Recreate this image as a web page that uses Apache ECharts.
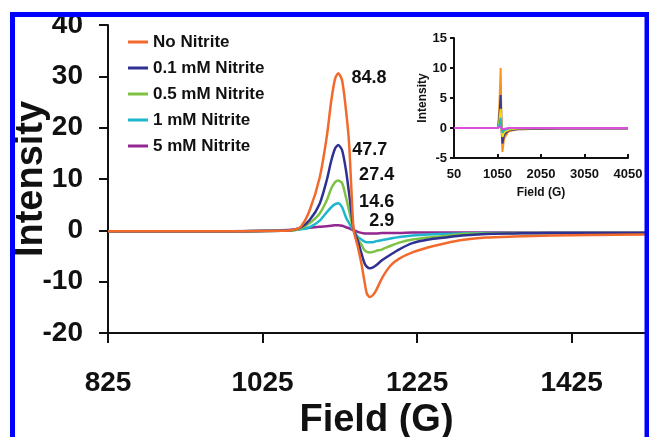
<!DOCTYPE html>
<html>
<head>
<meta charset="utf-8">
<script src="https://cdn.jsdelivr.net/npm/echarts@6/dist/echarts.min.js"></script>
<style>
html,body{margin:0;padding:0;background:#fff;}
#c{width:649px;height:437px;}
</style>
</head>
<body>
<div id="c"></div>
<script>
// ---- data ----
var seriesNames = ['No Nitrite', '0.1 mM Nitrite', '0.5 mM Nitrite', '1 mM Nitrite', '5 mM Nitrite'];
var peakLabels = ['84.8', '47.7', '27.4', '14.6', '2.9'];
var xTicksMain = [825, 1025, 1225, 1425];
var xTicksInset = [50, 1050, 2050, 3050, 4050];

var field = [825, 950, 1050, 1065, 1075, 1086, 1099, 1108, 1114, 1119, 1123, 1128, 1133, 1137, 1140, 1143, 1148, 1153, 1157, 1160, 1164, 1168, 1172, 1180, 1191, 1202, 1219, 1240, 1262, 1283, 1314, 1350, 1400, 1450, 1520];
var noNitrite = [-0.2, -0.2, -0.1, 0.1, 0.8, 3.9, 10.3, 18.1, 25.3, 29.6, 30.6, 29.2, 23.4, 17.0, 8.0, 0.0, -3.0, -6.5, -10.0, -12.3, -13.0, -12.6, -11.7, -9.2, -6.8, -5.5, -4.3, -3.3, -2.5, -1.9, -1.4, -1.2, -1.0, -0.9, -0.8];
var nitrite01 = [-0.2, -0.2, -0.1, 0.1, 0.6, 2.0, 5.2, 9.7, 13.6, 16.0, 16.6, 15.6, 11.7, 7.2, 3.5, 0.0, -1.9, -4.5, -6.4, -7.1, -7.4, -7.2, -6.8, -5.8, -4.7, -3.7, -2.5, -1.8, -1.4, -1.0, -0.7, -0.6, -0.5, -0.5, -0.5];
var nitrite05 = [-0.2, -0.2, -0.1, 0.0, 0.4, 1.4, 3.3, 5.8, 8.2, 9.4, 9.7, 9.2, 6.4, 3.8, 1.8, 0.0, -1.6, -2.8, -3.9, -4.2, -4.3, -4.2, -4.0, -3.7, -3.0, -2.4, -1.8, -1.4, -1.1, -0.7, -0.6, -0.5, -0.5, -0.5, -0.5];
var nitrite1 = [-0.2, -0.2, -0.1, 0.0, 0.2, 0.6, 1.9, 3.5, 4.5, 5.1, 5.3, 4.5, 2.5, 1.4, 0.6, 0.0, -1.2, -1.8, -2.2, -2.3, -2.3, -2.3, -2.1, -1.9, -1.6, -1.3, -1.0, -0.8, -0.7, -0.6, -0.5, -0.5, -0.5, -0.5, -0.5];
var nitrite5 = [-0.2, -0.2, 0.0, 0.1, 0.3, 0.5, 0.7, 0.8, 0.9, 1.0, 1.0, 0.9, 0.6, 0.4, 0.2, 0.0, -0.3, -0.5, -0.6, -0.6, -0.6, -0.6, -0.6, -0.5, -0.5, -0.5, -0.4, -0.4, -0.4, -0.4, -0.4, -0.4, -0.4, -0.4, -0.4];

var fieldInset = [50, 1000, 1060, 1090, 1123, 1143, 1164, 1200, 1300, 1500, 2500, 4050];
var insetNo = [0, 0, 0, 3.0, 10.0, 0, -4.0, -1.8, -0.6, -0.2, -0.1, -0.1];
var inset01 = [0, 0, 0, 1.6, 5.5, 0, -2.6, -1.2, -0.4, -0.2, -0.1, -0.1];
var inset05 = [0, 0, 0, 0.9, 3.2, 0, -1.5, -0.7, -0.3, -0.1, 0, 0];
var inset1 = [0, 0, 0, 0.5, 1.7, 0, -0.8, -0.4, -0.1, 0, 0, 0];
var inset5 = [0, 0, 0, 0.1, 0.3, 0, -0.2, -0.1, 0, 0, 0, 0];

// ---- styling ----
var mainColors = ['#f26a2b', '#2e3192', '#7dc242', '#1eb5cf', '#92278f'];
var insetColors = ['#f7931e', '#3b3b8e', '#f2e400', '#2bb3c4', '#dc4fdc'];
var FONT = '"Liberation Sans", Arial, sans-serif';

function pairs(xs, ys) { return xs.map(function (x, i) { return [x, ys[i]]; }); }
function plain(v) { return String(v); }

var mainData = [noNitrite, nitrite01, nitrite05, nitrite1, nitrite5];
var insetData = [insetNo, inset01, inset05, inset1, inset5];
var labelAnchors = [[1140, 29.6], [1141, 15.6], [1150, 10.7], [1150, 5.5], [1163, 1.9]];

var series = [];
mainData.forEach(function (ys, i) {
  series.push({
    name: seriesNames[i], type: 'line', xAxisIndex: 0, yAxisIndex: 0,
    data: pairs(field, ys), showSymbol: false, symbol: 'none', smooth: 0.25,
    lineStyle: { color: mainColors[i], width: 2.5 }, itemStyle: { color: mainColors[i] },
    z: 10 - i,
    markPoint: {
      symbol: 'circle', symbolSize: 0, silent: true,
      label: { show: true, position: 'right', distance: 0, color: '#111', fontFamily: FONT, fontWeight: 'bold', fontSize: 18,
        formatter: function (p) { return p.name; } },
      data: [{ name: peakLabels[i], coord: labelAnchors[i] }]
    }
  });
});
insetData.forEach(function (ys, i) {
  series.push({
    name: 'inset ' + seriesNames[i], type: 'line', xAxisIndex: 1, yAxisIndex: 1,
    data: pairs(fieldInset, ys), showSymbol: false, symbol: 'none',
    lineStyle: { color: insetColors[i], width: 2 }, itemStyle: { color: insetColors[i] },
    z: 20 + i
  });
});

var axisLineStyle = { color: '#111', width: 2 };
var option = {
  backgroundColor: '#fff',
  animation: false,
  legend: {
    data: seriesNames, orient: 'vertical', left: 128, top: 29, padding: 0,
    icon: 'rect', itemWidth: 20, itemHeight: 3, itemGap: 0,
    textStyle: { fontFamily: FONT, fontWeight: 'bold', fontSize: 17, color: '#111', lineHeight: 26 }
  },
  grid: [
    { left: 108, top: 25, right: 4, bottom: 104, containLabel: false, outerBoundsMode: 'none' },
    { left: 454, top: 38, width: 174, height: 120, containLabel: false, outerBoundsMode: 'none' }
  ],
  xAxis: [
    {
      type: 'value', gridIndex: 0, min: 825, max: 1520,
      axisLine: { show: true, onZero: false, lineStyle: axisLineStyle },
      axisTick: { show: true, inside: false, length: 10, lineStyle: axisLineStyle, customValues: xTicksMain },
      axisLabel: { customValues: xTicksMain, formatter: plain, fontFamily: FONT, fontWeight: 'bold', fontSize: 28, color: '#111', margin: 36 },
      splitLine: { show: false },
      name: 'Field (G)', nameLocation: 'middle', nameGap: 68,
      nameTextStyle: { fontFamily: FONT, fontWeight: 'bold', fontSize: 38, color: '#111' }
    },
    {
      type: 'value', gridIndex: 1, min: 50, max: 4050,
      axisLine: { show: true, onZero: false, lineStyle: axisLineStyle },
      axisTick: { show: true, inside: true, length: 4, lineStyle: axisLineStyle, customValues: xTicksInset },
      axisLabel: { customValues: xTicksInset, formatter: plain, fontFamily: FONT, fontWeight: 'bold', fontSize: 13, color: '#111', margin: 10 },
      splitLine: { show: false },
      name: 'Field (G)', nameLocation: 'middle', nameGap: 29,
      nameTextStyle: { fontFamily: FONT, fontWeight: 'bold', fontSize: 12, color: '#111' }
    }
  ],
  yAxis: [
    {
      type: 'value', gridIndex: 0, min: -20, max: 40, interval: 10,
      axisLine: { show: true, onZero: false, lineStyle: axisLineStyle },
      axisTick: { show: true, inside: false, length: 9, lineStyle: axisLineStyle },
      axisLabel: { formatter: plain, fontFamily: FONT, fontWeight: 'bold', fontSize: 28, color: '#111', margin: 25 },
      splitLine: { show: false },
      name: 'Intensity', nameLocation: 'middle', nameGap: 57, nameRotate: 90, nameMoveOverlap: false,
      nameTextStyle: { fontFamily: FONT, fontWeight: 'bold', fontSize: 38, color: '#111' }
    },
    {
      type: 'value', gridIndex: 1, min: -5, max: 15, interval: 5,
      axisLine: { show: true, onZero: false, lineStyle: axisLineStyle },
      axisTick: { show: true, inside: false, length: 4, lineStyle: axisLineStyle },
      axisLabel: { formatter: plain, fontFamily: FONT, fontWeight: 'bold', fontSize: 13, color: '#111', margin: 7 },
      splitLine: { show: false },
      name: 'Intensity', nameLocation: 'middle', nameGap: 22, nameRotate: 90,
      nameTextStyle: { fontFamily: FONT, fontWeight: 'bold', fontSize: 12, color: '#111' }
    }
  ],
  graphic: [
    { type: 'rect', z: 1000, silent: true,
      shape: { x: 12.5, y: 14.5, width: 634.5, height: 440 },
      style: { fill: null, stroke: '#0000ff', lineWidth: 5 } }
  ],
  series: series
};

var chart = echarts.init(document.getElementById('c'), null, { renderer: 'canvas' });
chart.setOption(option);
</script>
</body>
</html>
